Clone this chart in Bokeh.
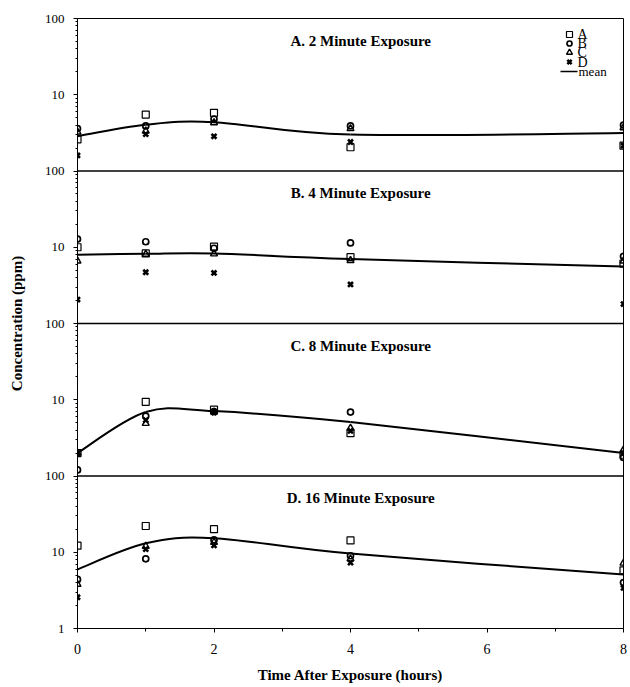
import math
from bokeh.plotting import figure
from bokeh.models import (Range1d, FixedTicker, Label, Span, ColumnDataSource,
                          CustomJSTickFormatter)
from bokeh.embed import file_html
from bokeh.resources import INLINE

# ---------------- data ----------------
times = [0, 1, 2, 4, 8]
series_names = ["A", "B", "C", "D"]
panel_titles = ["A. 2 Minute Exposure", "B. 4 Minute Exposure",
                "C. 8 Minute Exposure", "D. 16 Minute Exposure"]

# 2 minute exposure
m2_A = [2.6, 5.5, 5.8, 2.05, 2.15]
m2_B = [3.6, 3.9, 4.8, 3.9, 4.0]
m2_C = [3.25, 3.35, 4.3, 3.6, 3.7]
m2_D = [1.6, 3.05, 2.85, 2.4, 2.15]
m2_mean = [2.86, 4.04, 4.37, 3.0, 3.15]

# 4 minute exposure
m4_A = [10.0, 8.3, 10.2, 7.4, 6.1]
m4_B = [12.8, 11.8, 9.7, 11.4, 7.6]
m4_C = [6.6, 8.1, 8.2, 6.7, 6.6]
m4_D = [2.06, 4.7, 4.6, 3.25, 1.8]
m4_mean = [8.0, 8.2, 8.3, 7.0, 5.6]

# 8 minute exposure
m8_A = [2.0, 9.4, 7.4, 3.65, 1.9]
m8_B = [1.2, 6.1, 7.0, 6.9, 1.75]
m8_C = [2.0, 4.9, 6.9, 4.25, 2.2]
m8_D = [2.0, 5.4, 6.8, 3.9, 2.0]
m8_mean = [2.0, 6.9, 7.1, 5.1, 2.0]

# 16 minute exposure
m16_A = [12.2, 22.1, 20.1, 14.3, 5.8]
m16_B = [4.4, 8.2, 14.5, 9.0, 4.0]
m16_C = [3.8, 12.0, 13.5, 8.2, 7.2]
m16_D = [2.57, 11.0, 12.3, 7.3, 3.4]
m16_mean = [5.95, 13.1, 15.3, 9.6, 5.1]

panels = [
    (m2_A, m2_B, m2_C, m2_D, m2_mean),
    (m4_A, m4_B, m4_C, m4_D, m4_mean),
    (m8_A, m8_B, m8_C, m8_D, m8_mean),
    (m16_A, m16_B, m16_C, m16_D, m16_mean),
]

x_ticks = [0, 2, 4, 6, 8]
x_minor = [1, 3, 5, 7]

# ---------------- layout / style ----------------
SERIF = "Liberation Serif"
FRAME_W, FRAME_H = 546, 610
N_DEC = 8                      # 4 stacked panels, 2 decades each (1..100)
DEC_PX = FRAME_H / N_DEC
markers = dict(A=("square", 7, 1.2), B=("circle", 6, 1.7),
               C=("triangle", 7, 1.4), D=("x", 7, 2.6))


def px_to_y(px_from_top):
    """frame pixel offset from the top -> value on the stacked log axis"""
    return 10 ** (N_DEC - px_from_top / DEC_PX)


def px_to_x(px_from_left):
    return 8 * px_from_left / FRAME_W


def smooth_bezier(xs, ys):
    """Excel-style smoothed line: cubic Bezier segments in (x, log y)."""
    ly = [math.log10(v) for v in ys]
    n = len(xs)
    d = dict(x0=[], y0=[], x1=[], y1=[], cx0=[], cy0=[], cx1=[], cy1=[])
    for i in range(n - 1):
        im, ip = max(i - 1, 0), min(i + 2, n - 1)
        d["x0"].append(xs[i]); d["y0"].append(ys[i])
        d["x1"].append(xs[i + 1]); d["y1"].append(ys[i + 1])
        d["cx0"].append(xs[i] + (xs[i + 1] - xs[im]) / 6)
        d["cy0"].append(10 ** (ly[i] + (ly[i + 1] - ly[im]) / 6))
        d["cx1"].append(xs[i + 1] - (xs[ip] - xs[i]) / 6)
        d["cy1"].append(10 ** (ly[i + 1] - (ly[ip] - ly[i]) / 6))
    return d


p = figure(frame_width=FRAME_W, frame_height=FRAME_H,
           x_range=Range1d(0, 8), y_range=Range1d(1, 10 ** N_DEC),
           y_axis_type="log",
           min_border_left=77, min_border_right=7,
           min_border_top=18, min_border_bottom=58,
           output_backend="svg", toolbar_location=None)
p.xgrid.visible = False
p.ygrid.visible = False
p.outline_line_color = "black"
p.outline_line_width = 1
p.background_fill_color = "white"
p.border_fill_color = "white"

# y axis: every panel reads 1 .. 10 .. 100
p.yaxis.ticker = FixedTicker(
    ticks=[10 ** d for d in range(N_DEC + 1)],
    minor_ticks=[m * 10 ** d for d in range(N_DEC) for m in range(2, 10)])
p.yaxis.formatter = CustomJSTickFormatter(code="""
    const e = Math.round(Math.log10(tick));
    if (e == 0) return '1';
    return (e % 2 == 0) ? '100' : '10';
""")
p.yaxis.major_label_standoff = 9
p.yaxis.major_label_text_font_size = "13px"
p.yaxis.axis_label = "Concentration (ppm)"
p.yaxis.axis_label_standoff = 17

# x axis
p.xaxis.ticker = FixedTicker(ticks=x_ticks, minor_ticks=x_minor)
p.xaxis.major_label_standoff = 11
p.xaxis.major_label_text_font_size = "14px"
p.xaxis.axis_label = "Time After Exposure (hours)"
p.xaxis.axis_label_standoff = 10

for ax in (p.xaxis, p.yaxis):
    ax.axis_line_color = "black"
    ax.major_tick_line_color = "black"
    ax.minor_tick_line_color = "black"
    ax.major_tick_in = 0
    ax.major_tick_out = 4
    ax.minor_tick_in = 0
    ax.minor_tick_out = 2
    ax.major_label_text_font = SERIF
    ax.major_label_text_color = "black"
    ax.axis_label_text_font = SERIF
    ax.axis_label_text_font_style = "bold"
    ax.axis_label_text_font_size = "15px"
    ax.axis_label_text_color = "black"
p.xaxis.minor_tick_out = 3

# panel separators
for k in range(1, 4):
    p.add_layout(Span(location=10 ** (2 * k), dimension="width",
                      line_color="black", line_width=1.3))

for k, (sA, sB, sC, sD, smean) in enumerate(panels):
    mult = 10 ** (2 * (3 - k))      # stack panel k onto the shared log axis
    bz = ColumnDataSource(smooth_bezier(times, [v * mult for v in smean]))
    p.bezier(x0="x0", y0="y0", x1="x1", y1="y1", cx0="cx0", cy0="cy0",
             cx1="cx1", cy1="cy1", source=bz, line_color="black", line_width=2)
    for name, vals in zip(series_names, (sA, sB, sC, sD)):
        mk, sz, lw = markers[name]
        p.scatter(times, [v * mult for v in vals], marker=mk, size=sz,
                  line_color="black", line_width=lw, fill_color=None)
    p.add_layout(Label(x=4.15, y=10 ** (2 * (4 - k) - 22 / DEC_PX),
                       text=panel_titles[k], text_font=SERIF,
                       text_font_style="bold", text_font_size="15px",
                       text_align="center", text_baseline="middle",
                       text_color="black"))

# legend (top right of panel A)
leg_rows = [16, 25, 34, 43.5]          # px below the frame top
for name, off in zip(series_names, leg_rows):
    mk, sz, lw = markers[name]
    p.scatter([px_to_x(492)], [px_to_y(off)], marker=mk, size=sz - 1,
              line_color="black", line_width=lw, fill_color=None)
    p.add_layout(Label(x=px_to_x(500), y=px_to_y(off), text=name,
                       text_font=SERIF, text_font_size="14px",
                       text_baseline="middle", text_color="black"))
mean_off = 53
p.line([px_to_x(483), px_to_x(500)], [px_to_y(mean_off)] * 2,
       line_color="black", line_width=1.5)
p.add_layout(Label(x=px_to_x(501), y=px_to_y(mean_off), text="mean",
                   text_font=SERIF, text_font_size="13px",
                   text_baseline="middle", text_color="black"))

open("out.html", "w").write(file_html(p, INLINE))
